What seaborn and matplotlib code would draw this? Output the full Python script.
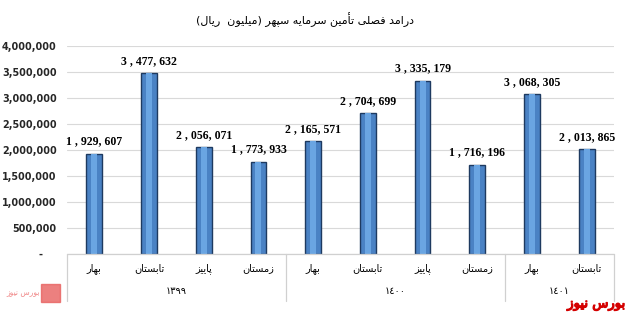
import matplotlib
matplotlib.use("Agg")
import matplotlib.pyplot as plt
import matplotlib.transforms as mtransforms
import matplotlib.patheffects as pe
from matplotlib.patches import Rectangle
import seaborn as sns
import pandas as pd

# ---------------- data ----------------
title = "درامد فصلی تأمین سرمایه سپهر (میلیون  ریال)"
seasons = ["بهار", "تابستان", "پاییز", "زمستان",
           "بهار", "تابستان", "پاییز", "زمستان",
           "بهار", "تابستان"]
year_labels = ["١٣٩٩", "١٤٠٠", "١٤٠١"]
year_counts = [4, 4, 2]
values = [1929607, 3477632, 2056071, 1773933,
          2165571, 2704699, 3335179, 1716196,
          3068305, 2013865]
y_ticks = [0, 500000, 1000000, 1500000, 2000000, 2500000, 3000000, 3500000, 4000000]
brand = "بورس نیوز"

# ------------- simple Arabic/Persian shaping for matplotlib -------------
FORMS = {
    "ا": (0xFE8D, 0xFE8E), "أ": (0xFE83, 0xFE84),
    "د": (0xFEA9, 0xFEAA), "ر": (0xFEAD, 0xFEAE), "ز": (0xFEAF, 0xFEB0),
    "و": (0xFEED, 0xFEEE),
    "ب": (0xFE8F, 0xFE90, 0xFE91, 0xFE92), "پ": (0xFB56, 0xFB57, 0xFB58, 0xFB59),
    "ت": (0xFE95, 0xFE96, 0xFE97, 0xFE98), "س": (0xFEB1, 0xFEB2, 0xFEB3, 0xFEB4),
    "ص": (0xFEB9, 0xFEBA, 0xFEBB, 0xFEBC), "ف": (0xFED1, 0xFED2, 0xFED3, 0xFED4),
    "ل": (0xFEDD, 0xFEDE, 0xFEDF, 0xFEE0), "م": (0xFEE1, 0xFEE2, 0xFEE3, 0xFEE4),
    "ن": (0xFEE5, 0xFEE6, 0xFEE7, 0xFEE8), "ه": (0xFEE9, 0xFEEA, 0xFEEB, 0xFEEC),
    "ی": (0xFBFC, 0xFBFD, 0xFBFE, 0xFBFF),
}
MIRROR = {"(": ")", ")": "("}


def shape(text):
    out = []
    n = len(text)
    for i, ch in enumerate(text):
        if ch not in FORMS:
            out.append(ch)
            continue
        f = FORMS[ch]
        prev = text[i - 1] if i > 0 else ""
        nxt = text[i + 1] if i + 1 < n else ""
        join_prev = prev in FORMS and len(FORMS[prev]) == 4
        join_next = len(f) == 4 and nxt in FORMS
        if join_prev and join_next:
            c = f[3]
        elif join_prev:
            c = f[1]
        elif join_next:
            c = f[2]
        else:
            c = f[0]
        out.append(chr(c))
    s = "".join(out)
    rev = [MIRROR.get(c, c) for c in reversed(s)]
    res, run = [], []
    for c in rev:
        if c.isdigit():
            run.append(c)
        else:
            if run:
                res.extend(reversed(run))
                run = []
            res.append(c)
    if run:
        res.extend(reversed(run))
    return "".join(res)


def fmt_val(v):
    s = f"{v:,}"
    parts = s.split(",")
    return parts[0] + " , " + ", ".join(parts[1:])


# ---------------- figure ----------------
sns.set_theme(style="white")
plt.rcParams["font.family"] = ["DejaVu Sans"]

W, H = 633, 318
fig = plt.figure(figsize=(W / 100, H / 100), dpi=100)
fig.patch.set_facecolor("white")
ax = fig.add_axes([67 / W, 1 - 254 / H, 547 / W, 208 / H])

keys = [f"k{i}" for i in range(len(values))]
df = pd.DataFrame({"key": keys, "value": values})

sns.barplot(data=df, x="key", y="value", order=keys, ax=ax, width=0.29,
            color="#4a82c4", edgecolor="#1e3a60", linewidth=1.0, saturation=1)
sns.barplot(data=df, x="key", y="value", order=keys, ax=ax, width=0.11,
            color="#6aa5e2", linewidth=0, saturation=1)

ax.set_xlim(-0.5, len(values) - 0.5)
ax.set_ylim(0, 4000000)
ax.set_yticks(y_ticks)
ax.set_yticklabels([f"{t:,}" if t else "-    " for t in y_ticks],
                   fontfamily="DejaVu Sans", fontweight="bold", fontsize=6.9)
ax.tick_params(axis="y", length=0, pad=7.5)
ax.set_xticks([])
ax.set_xlabel("")
ax.set_ylabel("")
for sp in ax.spines.values():
    sp.set_visible(False)
ax.grid(axis="y", color="#d9d9d9", linewidth=0.8)
ax.set_axisbelow(True)

# value labels
for i, v in enumerate(values):
    ax.annotate(fmt_val(v), (i, v), xytext=(0, 4.5), textcoords="offset points",
                ha="center", va="bottom", fontfamily="Liberation Serif",
                fontweight="bold", fontsize=8.5, color="black")

# category table below axis
trans = mtransforms.blended_transform_factory(ax.transData, ax.transAxes)
ax.plot([-0.5, len(values) - 0.5], [0, 0], color="#d0d0d0", lw=0.9,
        transform=trans, clip_on=False)
bounds = [-0.5]
for c in year_counts:
    bounds.append(bounds[-1] + c)
for b in bounds:
    ax.plot([b, b], [0, -0.225], color="#d0d0d0", lw=0.9, transform=trans, clip_on=False)
for i, s in enumerate(seasons):
    ax.text(i, -0.068, shape(s), transform=trans, ha="center", va="center",
            fontsize=7, color="black")
for j, y in enumerate(year_labels):
    cx = (bounds[j] + bounds[j + 1]) / 2
    ax.text(cx, -0.178, y, transform=trans, ha="center", va="center",
            fontsize=7, color="black")

# title
fig.text(305 / W, 1 - 20 / H, shape(title), ha="center", va="center",
         fontsize=8, color="black")

# brand (regular face + stroke, since the bold face lacks Arabic glyphs)
fig.text(626 / W, 1 - 304 / H, shape(brand), ha="right", va="center",
         fontsize=9.5, color="#d40000",
         path_effects=[pe.withStroke(linewidth=0.9, foreground="#d40000")])
fig.text(40 / W, 1 - 293 / H, shape(brand), ha="right", va="center",
         fontsize=5.5, color="#f08a8a")
fig.patches.append(Rectangle((41 / W, 1 - 302 / H), 19 / W, 18 / H,
                             transform=fig.transFigure, color="#e8605f", alpha=0.8))

fig.savefig("out.png", dpi=100)
